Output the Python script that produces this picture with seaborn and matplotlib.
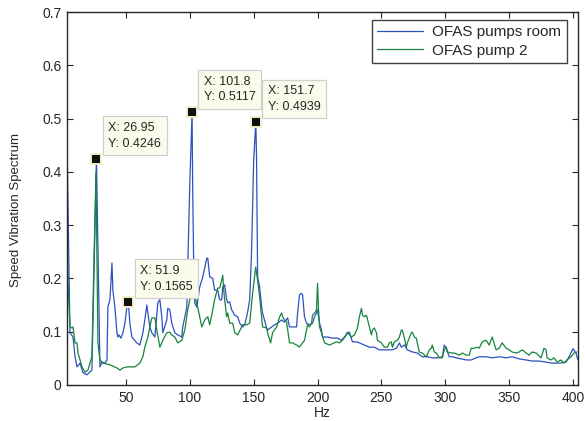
import numpy as np
import pandas as pd
import matplotlib
matplotlib.use("Agg")
import matplotlib.pyplot as plt
import seaborn as sns

# ---------------- data ----------------
freq_room = [3.9, 6.25, 8.6, 10.2, 11.7, 14.1, 16.4, 19.5, 23.4, 26.95, 29.7, 31.3, 33.6, 35.2, 35.9, 37.5,
             39.1, 39.8, 41.4, 43.0, 43.75, 44.5, 46.1, 47.7, 49.2, 50.8, 51.9, 53.1, 54.7, 58.6, 60.9, 63.3,
             64.8, 66.4, 67.2, 68.75, 70.3, 72.7, 75.0, 76.6, 78.1, 78.9, 82.0, 82.8, 84.4, 85.9, 88.3, 90.6,
             93.75, 94.5, 97.7, 98.4, 100.0, 101.8, 102.3, 103.1, 103.9, 105.5, 107.8, 110.2, 113.3, 114.1,
             115.6, 118.0, 119.5, 121.9, 123.4, 125.0, 125.8, 127.3, 128.9, 129.7, 131.25, 132.8, 135.2, 137.5,
             139.1, 141.4, 143.0, 144.5, 145.3, 146.9, 148.4, 150.0, 151.7, 152.3, 153.1, 154.7, 156.25, 157.0,
             160.2, 160.9, 164.1, 166.4, 168.75, 171.9, 174.2, 176.6, 178.1, 180.5, 183.6, 184.4, 185.9, 187.5,
             188.3, 189.8, 191.4, 193.75, 196.1, 197.7, 199.2, 200.0, 201.6, 203.1, 203.9, 207.8, 211.7, 215.6,
             218.75, 221.1, 223.4, 225.0, 227.3, 230.5, 232.8, 236.7, 240.6, 244.5, 248.4, 253.9, 258.6, 261.7,
             264.1, 265.6, 268.0, 270.3, 274.2, 278.1, 282.0, 285.9, 289.8, 293.75, 297.7, 299.2, 300.8, 303.1,
             305.5, 308.6, 312.5, 316.4, 320.3, 324.2, 326.6, 332.0, 336.7, 342.2, 347.7, 352.3, 357.8, 363.3,
             368.0, 373.4, 378.9, 383.6, 389.1, 394.5, 396.9, 400.0, 402.3, 403.9]
amp_room = [0.455, 0.098, 0.090, 0.053, 0.034, 0.041, 0.023, 0.019, 0.028, 0.4246, 0.034, 0.043, 0.041, 0.047,
            0.146, 0.160, 0.229, 0.178, 0.146, 0.098, 0.090, 0.094, 0.088, 0.098, 0.116, 0.146, 0.1565, 0.116,
            0.090, 0.079, 0.075, 0.098, 0.122, 0.150, 0.135, 0.109, 0.098, 0.090, 0.154, 0.160, 0.128, 0.098,
            0.122, 0.144, 0.141, 0.116, 0.098, 0.094, 0.090, 0.109, 0.146, 0.221, 0.375, 0.5117, 0.366, 0.221,
            0.154, 0.146, 0.184, 0.203, 0.238, 0.238, 0.203, 0.200, 0.178, 0.178, 0.160, 0.160, 0.184, 0.188,
            0.160, 0.154, 0.156, 0.141, 0.131, 0.128, 0.116, 0.109, 0.113, 0.128, 0.137, 0.160, 0.253, 0.420,
            0.4939, 0.420, 0.203, 0.184, 0.146, 0.135, 0.107, 0.103, 0.109, 0.113, 0.116, 0.122, 0.118, 0.126,
            0.109, 0.109, 0.109, 0.135, 0.169, 0.172, 0.169, 0.128, 0.116, 0.113, 0.116, 0.128, 0.135, 0.141,
            0.116, 0.103, 0.090, 0.090, 0.088, 0.088, 0.084, 0.090, 0.098, 0.099, 0.081, 0.081, 0.079, 0.075,
            0.071, 0.071, 0.066, 0.066, 0.066, 0.069, 0.079, 0.071, 0.075, 0.066, 0.062, 0.060, 0.053, 0.053,
            0.051, 0.051, 0.053, 0.075, 0.069, 0.053, 0.053, 0.051, 0.049, 0.047, 0.047, 0.051, 0.053, 0.053,
            0.051, 0.053, 0.051, 0.053, 0.049, 0.047, 0.045, 0.045, 0.043, 0.041, 0.041, 0.043, 0.053, 0.068,
            0.060, 0.047]

freq_pump2 = [3.9, 4.7, 6.25, 7.8, 8.6, 10.2, 11.7, 12.5, 14.1, 15.6, 18.0, 20.3, 23.4, 25.0, 26.6, 27.3, 28.1,
              29.7, 32.0, 37.5, 43.0, 45.3, 47.7, 50.8, 53.1, 57.0, 60.9, 63.3, 64.8, 67.2, 68.75, 70.3, 72.7,
              74.2, 76.6, 78.9, 82.0, 84.4, 85.9, 88.3, 90.6, 93.75, 96.1, 98.4, 100.0, 102.3, 106.25, 109.4,
              111.7, 114.1, 115.6, 117.2, 119.5, 121.9, 123.4, 125.0, 125.8, 126.6, 127.3, 128.9, 129.7, 131.25,
              133.6, 135.2, 137.5, 140.6, 141.4, 144.5, 146.9, 149.2, 151.6, 153.1, 154.7, 156.25, 157.0, 160.2,
              160.9, 163.3, 164.8, 168.0, 170.3, 171.9, 172.7, 174.2, 175.8, 178.1, 180.5, 183.6, 185.9, 188.3,
              189.8, 192.2, 193.75, 195.3, 196.1, 197.7, 199.2, 200.0, 200.8, 201.6, 203.1, 205.5, 209.4, 214.8,
              217.2, 219.5, 222.7, 223.4, 226.6, 228.9, 231.25, 232.8, 234.4, 235.2, 236.7, 238.3, 240.6, 242.2,
              243.0, 244.5, 246.1, 246.9, 250.0, 252.3, 254.7, 256.25, 257.8, 258.6, 260.2, 262.5, 264.1, 265.6,
              266.4, 268.0, 269.5, 270.3, 273.4, 274.2, 275.8, 277.3, 278.1, 279.7, 282.0, 285.2, 287.5, 289.1,
              289.8, 291.4, 293.0, 295.3, 297.7, 299.2, 300.8, 301.6, 304.7, 307.0, 310.9, 313.3, 316.4, 318.75,
              320.3, 322.7, 325.0, 326.6, 328.9, 332.0, 334.4, 336.7, 339.8, 342.2, 344.5, 347.7, 350.0, 352.3,
              355.5, 357.8, 360.2, 363.3, 365.6, 368.0, 371.1, 375.0, 377.3, 378.9, 379.7, 382.8, 385.2, 387.5,
              390.6, 392.95, 395.3, 398.4, 400.8, 403.1]
amp_pump2 = [0.290, 0.190, 0.109, 0.107, 0.109, 0.079, 0.079, 0.060, 0.047, 0.034, 0.024, 0.028, 0.053, 0.234,
             0.400, 0.253, 0.079, 0.047, 0.041, 0.038, 0.032, 0.028, 0.032, 0.034, 0.034, 0.034, 0.041, 0.053,
             0.071, 0.090, 0.109, 0.126, 0.126, 0.103, 0.071, 0.084, 0.098, 0.099, 0.094, 0.090, 0.079, 0.084,
             0.103, 0.141, 0.160, 0.182, 0.146, 0.109, 0.122, 0.128, 0.113, 0.131, 0.161, 0.182, 0.182, 0.197,
             0.206, 0.178, 0.160, 0.128, 0.135, 0.116, 0.116, 0.098, 0.094, 0.109, 0.113, 0.113, 0.116, 0.172,
             0.221, 0.197, 0.165, 0.128, 0.109, 0.107, 0.098, 0.079, 0.098, 0.109, 0.128, 0.135, 0.128, 0.122,
             0.118, 0.079, 0.079, 0.075, 0.071, 0.079, 0.084, 0.113, 0.109, 0.116, 0.131, 0.135, 0.141, 0.191,
             0.141, 0.109, 0.098, 0.079, 0.075, 0.081, 0.079, 0.084, 0.094, 0.099, 0.090, 0.094, 0.107, 0.128,
             0.144, 0.131, 0.128, 0.131, 0.109, 0.094, 0.103, 0.107, 0.098, 0.084, 0.079, 0.071, 0.071, 0.079,
             0.081, 0.071, 0.081, 0.084, 0.090, 0.103, 0.103, 0.088, 0.071, 0.079, 0.098, 0.099, 0.090, 0.088,
             0.079, 0.062, 0.060, 0.053, 0.066, 0.069, 0.075, 0.062, 0.060, 0.051, 0.051, 0.066, 0.071, 0.062,
             0.060, 0.060, 0.056, 0.060, 0.056, 0.056, 0.069, 0.069, 0.071, 0.069, 0.081, 0.084, 0.075, 0.090,
             0.066, 0.069, 0.079, 0.069, 0.066, 0.062, 0.060, 0.062, 0.066, 0.060, 0.056, 0.062, 0.060, 0.051,
             0.069, 0.066, 0.051, 0.047, 0.051, 0.043, 0.047, 0.041, 0.047, 0.053, 0.060, 0.062]

series_names = ["OFAS pumps room", "OFAS pump 2"]
tip_x = [26.95, 51.9, 101.8, 151.7]
tip_y = [0.4246, 0.1565, 0.5117, 0.4939]
x_ticks = [50, 100, 150, 200, 250, 300, 350, 400]
y_ticks = [0, 0.1, 0.2, 0.3, 0.4, 0.5, 0.6, 0.7]
y_tick_labels = ["0", "0.1", "0.2", "0.3", "0.4", "0.5", "0.6", "0.7"]
x_label = "Hz"
y_label = "Speed Vibration Spectrum"

# ---------------- style ----------------
sns.set_theme(style="ticks")
plt.rcParams['font.family'] = ['Liberation Sans', 'DejaVu Sans']
plt.rcParams['axes.edgecolor'] = '#262626'
plt.rcParams['axes.linewidth'] = 1.0

fig = plt.figure(figsize=(5.85, 4.21), dpi=100)
ax = fig.add_axes([67/585, 36/421, (578-67)/585, (409-36)/421])

df_room = pd.DataFrame({"Hz": freq_room, "amp": amp_room, "series": series_names[0]})
df_pump = pd.DataFrame({"Hz": freq_pump2, "amp": amp_pump2, "series": series_names[1]})
df = pd.concat([df_room, df_pump], ignore_index=True)

palette = {series_names[0]: "#2f50bf", series_names[1]: "#15843c"}
sns.lineplot(data=df, x="Hz", y="amp", hue="series", palette=palette, estimator=None,
             sort=False, linewidth=0.9, ax=ax, legend=True)

ax.set_xlim(3.9, 403.9)
ax.set_ylim(0, 0.7)
ax.set_xticks(x_ticks)
ax.set_yticks(y_ticks)
ax.set_yticklabels(y_tick_labels)
ax.tick_params(direction='in', length=4, width=0.8, top=True, right=True,
               labelsize=10, colors='#262626', pad=4)
for s in ax.spines.values():
    s.set_visible(True)
    s.set_color('#262626')
ax.set_xlabel(x_label, fontsize=10, color='#262626', labelpad=1)
ax.set_ylabel("")

# legend
leg = ax.legend(loc='upper right', bbox_to_anchor=(0.978, 0.979), fontsize=11, frameon=True,
                fancybox=False, edgecolor='#111111', handlelength=3.0, borderpad=0.35,
                labelspacing=0.3, handletextpad=0.6, borderaxespad=0)
leg.get_frame().set_linewidth(1.0)
for t in leg.get_texts():
    t.set_color('#262626')

# data tips
for tx, ty in zip(tip_x, tip_y):
    ax.plot([tx], [ty], marker='s', markersize=6.5, mfc='#111111', mec='#f3efc8', mew=1.4,
            linestyle='none', zorder=6)
    ax.annotate(f"X: {tx:g}\nY: {ty:g}", xy=(tx, ty), xytext=(8.5, 6.5), textcoords='offset points',
                ha='left', va='bottom', fontsize=9, color='#262626', linespacing=1.4, zorder=7,
                bbox=dict(boxstyle='square,pad=0.45', fc='#fbfbec', ec='#cfcfcf', lw=0.9))

# y label (rotated, placed as in the reference)
fig.text(16/585, 1 - 210/421, y_label, rotation=90, ha='center', va='center',
         fontsize=9.5, color='#262626')

fig.savefig("out.png", dpi=100)
